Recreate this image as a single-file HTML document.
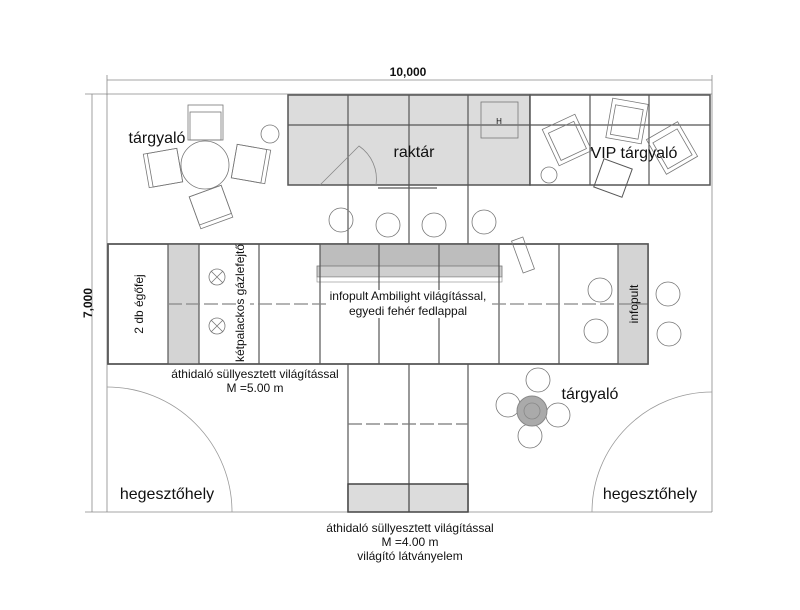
<!DOCTYPE html>
<html><head><meta charset="utf-8"><style>
html,body{margin:0;padding:0;background:#fff}
svg{display:block}
text{font-family:"Liberation Sans",sans-serif;fill:#111}
</style></head><body>
<svg width="800" height="610" viewBox="0 0 800 610" xmlns="http://www.w3.org/2000/svg">
<g stroke="#888" stroke-width="0.8" fill="none">
<line x1="107" y1="80" x2="712" y2="80"/>
<line x1="107" y1="75" x2="107" y2="95"/>
<line x1="712" y1="75" x2="712" y2="512"/>
<line x1="92" y1="94" x2="92" y2="512"/>
<line x1="85" y1="94" x2="712" y2="94"/>
<line x1="85" y1="512" x2="712" y2="512"/>
<line x1="107" y1="94" x2="107" y2="512"/>
</g>
<text x="408" y="76" font-size="12" font-weight="bold" text-anchor="middle">10,000</text>
<text transform="translate(92,303) rotate(-90)" font-size="12" font-weight="bold" text-anchor="middle">7,000</text>

<g stroke="#999" stroke-width="0.8" fill="none">
<path d="M107 387 A125 125 0 0 1 232 512"/>
<path d="M712 392 A120 120 0 0 0 592 512"/>
</g>

<rect x="288" y="95" width="242" height="90" fill="#dcdcdc" stroke="#555" stroke-width="1.5"/>
<g stroke="#555" stroke-width="1.2">
<line x1="348" y1="95" x2="348" y2="185"/><line x1="409" y1="95" x2="409" y2="185"/><line x1="468" y1="95" x2="468" y2="185"/>
<line x1="288" y1="125" x2="530" y2="125"/>
</g>
<rect x="481" y="102" width="37" height="36" fill="none" stroke="#777" stroke-width="0.8"/>
<text x="499" y="124" font-size="8" text-anchor="middle">H</text>
<path d="M320 185 L359 146 A40 40 0 0 1 376 185" fill="none" stroke="#888" stroke-width="0.8"/>
<line x1="378" y1="188" x2="437" y2="188" stroke="#777" stroke-width="1.5"/>
<text x="414" y="157" font-size="16" text-anchor="middle">raktár</text>

<rect x="530" y="95" width="180" height="90" fill="#fff" stroke="#555" stroke-width="1.5"/>
<g stroke="#555" stroke-width="1.2">
<line x1="590" y1="95" x2="590" y2="185"/><line x1="649" y1="95" x2="649" y2="185"/>
<line x1="530" y1="125" x2="710" y2="125"/>
</g>
<g stroke="#777" stroke-width="0.8" fill="none">
<rect x="-18" y="-20" width="36" height="40" transform="translate(567,140) rotate(-25)"/>
<rect x="-14" y="-14" width="28" height="30" transform="translate(567,140) rotate(-25)"/>
<rect x="-18" y="-20" width="36" height="40" transform="translate(627,121) rotate(10)"/>
<rect x="-14" y="-14" width="28" height="30" transform="translate(627,121) rotate(10)"/>
<rect x="-18" y="-20" width="36" height="40" transform="translate(672,148) rotate(-30)"/>
<rect x="-14" y="-14" width="28" height="30" transform="translate(672,148) rotate(-30)"/>
<circle cx="549" cy="175" r="8"/>
</g>
<rect x="-15" y="-15" width="30" height="30" transform="translate(613,178) rotate(20)" fill="none" stroke="#555" stroke-width="1"/>
<text x="634" y="158" font-size="16" text-anchor="middle">VIP tárgyaló</text>

<g stroke="#777" stroke-width="0.8" fill="none">
<circle cx="205" cy="165" r="24"/>
<rect x="188" y="105" width="35" height="35"/>
<rect x="190" y="112" width="31" height="28"/>
<rect x="-17" y="-17" width="34" height="34" transform="translate(163,168) rotate(-10)"/>
<rect x="-13" y="-17" width="30" height="34" transform="translate(163,168) rotate(-10)"/>
<rect x="-17" y="-17" width="34" height="34" transform="translate(251,164) rotate(10)"/>
<rect x="-17" y="-17" width="30" height="34" transform="translate(251,164) rotate(10)"/>
<rect x="-17" y="-17" width="34" height="34" transform="translate(211,207) rotate(-20)"/>
<rect x="-17" y="-17" width="34" height="30" transform="translate(211,207) rotate(-20)"/>
<circle cx="270" cy="134" r="9"/>
<circle cx="295" cy="254" r="9"/>
</g>
<text x="157" y="143" font-size="16" text-anchor="middle">tárgyaló</text>

<g stroke="#555" stroke-width="1.2" fill="none">
<line x1="348" y1="185" x2="348" y2="512"/><line x1="409" y1="185" x2="409" y2="512"/><line x1="468" y1="185" x2="468" y2="512"/>
<line x1="348" y1="424" x2="468" y2="424" stroke-dasharray="14 4" stroke="#777"/>
</g>
<rect x="348" y="484" width="120" height="28" fill="#dcdcdc" stroke="#444" stroke-width="1.5"/>
<line x1="409" y1="484" x2="409" y2="512" stroke="#444" stroke-width="1.2"/>

<g stroke="#777" stroke-width="0.8" fill="none">
<circle cx="341" cy="220" r="12"/><circle cx="388" cy="225" r="12"/><circle cx="434" cy="225" r="12"/><circle cx="484" cy="222" r="12"/>
</g>

<rect x="108" y="244" width="540" height="120" fill="#fff" stroke="#555" stroke-width="1.5"/>
<rect x="168" y="244" width="31" height="120" fill="#d4d4d4"/>
<rect x="618" y="244" width="30" height="120" fill="#d4d4d4"/>
<rect x="320" y="244" width="179" height="22" fill="#bdbdbd"/>
<rect x="317" y="266" width="185" height="11" fill="#cfcfcf" stroke="#777" stroke-width="0.8"/>
<rect x="317" y="277" width="185" height="5" fill="#fff" stroke="#888" stroke-width="0.6"/>
<g stroke="#555" stroke-width="1.2">
<line x1="168" y1="244" x2="168" y2="364"/><line x1="199" y1="244" x2="199" y2="364"/><line x1="259" y1="244" x2="259" y2="364"/>
<line x1="320" y1="244" x2="320" y2="364"/><line x1="379" y1="244" x2="379" y2="364"/><line x1="439" y1="244" x2="439" y2="364"/>
<line x1="499" y1="244" x2="499" y2="364"/><line x1="559" y1="244" x2="559" y2="364"/><line x1="618" y1="244" x2="618" y2="364"/>
<line x1="168" y1="304" x2="648" y2="304" stroke-dasharray="14 4" stroke="#888"/>
</g>
<rect x="108" y="244" width="540" height="120" fill="none" stroke="#555" stroke-width="1.5"/>
<rect x="326" y="290" width="164" height="28" fill="#fff"/>
<rect x="238" y="246" width="12" height="116" fill="#fff"/>
<g stroke="#777" stroke-width="0.8" fill="none">
<circle cx="217" cy="277" r="8"/><path d="M211 271 L223 283 M223 271 L211 283"/>
<circle cx="217" cy="326" r="8"/><path d="M211 320 L223 332 M223 320 L211 332"/>
<circle cx="600" cy="290" r="12"/><circle cx="596" cy="331" r="12"/>
<circle cx="668" cy="294" r="12"/><circle cx="669" cy="334" r="12"/>
<rect x="-6" y="-17" width="12" height="34" transform="translate(523,255) rotate(-20)"/>
</g>
<text transform="translate(143,304) rotate(-90)" font-size="12" text-anchor="middle">2 db égőfej</text>
<text transform="translate(244,303) rotate(-90)" font-size="12" text-anchor="middle">kétpalackos gázlefejtő</text>
<text transform="translate(638,304) rotate(-90)" font-size="12" text-anchor="middle">infopult</text>
<text x="408" y="300" font-size="12" text-anchor="middle">infopult Ambilight világítással,</text>
<text x="408" y="315" font-size="12" text-anchor="middle">egyedi fehér fedlappal</text>
<text x="255" y="378" font-size="12" text-anchor="middle">áthidaló süllyesztett világítással</text>
<text x="255" y="392" font-size="12" text-anchor="middle">M =5.00 m</text>

<g stroke="#777" stroke-width="0.8" fill="none">
<circle cx="538" cy="380" r="12"/><circle cx="508" cy="405" r="12"/><circle cx="558" cy="415" r="12"/><circle cx="530" cy="436" r="12"/>
</g>
<circle cx="532" cy="411" r="15" fill="#aaa" stroke="#888"/>
<circle cx="532" cy="411" r="8" fill="none" stroke="#888" stroke-width="0.8"/>
<text x="590" y="399" font-size="16" text-anchor="middle">tárgyaló</text>

<text x="167" y="499" font-size="16" text-anchor="middle">hegesztőhely</text>
<text x="650" y="499" font-size="16" text-anchor="middle">hegesztőhely</text>
<text x="410" y="532" font-size="12" text-anchor="middle">áthidaló süllyesztett világítással</text>
<text x="410" y="546" font-size="12" text-anchor="middle">M =4.00 m</text>
<text x="410" y="560" font-size="12" text-anchor="middle">világító látványelem</text>
</svg>
</body></html>
